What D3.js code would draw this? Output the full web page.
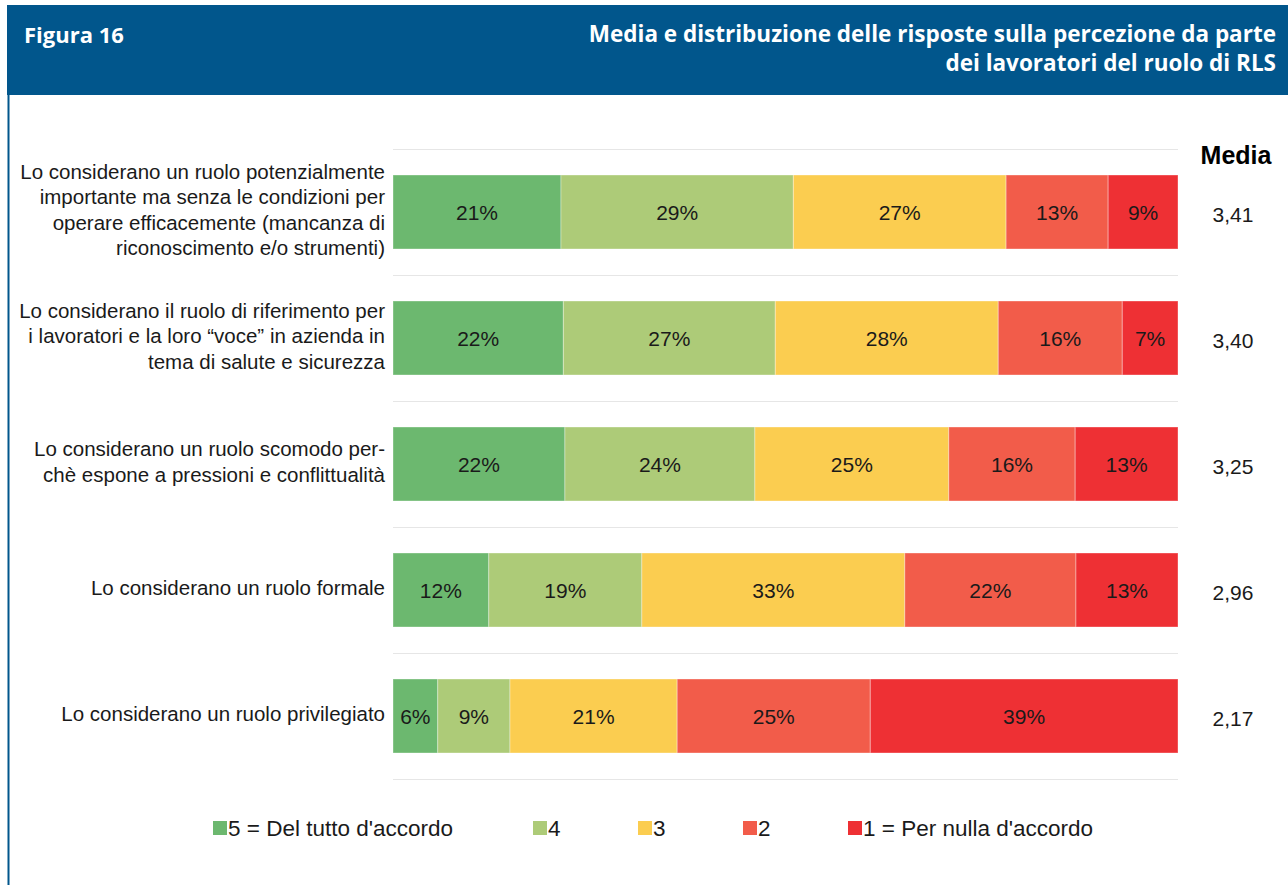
<!DOCTYPE html>
<html>
<head>
<meta charset="utf-8">
<script src="https://cdn.jsdelivr.net/npm/d3@7"></script>
<style>
  body { margin: 0; background: #fff; }
  svg { display: block; }
</style>
</head>
<body>
<svg id="chart" width="1288" height="885"></svg>
<script>
// Categories (label lines as wrapped in the figure)
const categories = [
  ["Lo considerano un ruolo potenzialmente", "importante ma senza le condizioni per", "operare efficacemente (mancanza di", "riconoscimento e/o strumenti)"],
  ["Lo considerano il ruolo di riferimento per", "i lavoratori e la loro \u201cvoce\u201d in azienda in", "tema di salute e sicurezza"],
  ["Lo considerano un ruolo scomodo per-", "ch\u00e8 espone a pressioni e conflittualit\u00e0"],
  ["Lo considerano un ruolo formale"],
  ["Lo considerano un ruolo privilegiato"]
];
const seriesNames = ["5 = Del tutto d'accordo", "4", "3", "2", "1 = Per nulla d'accordo"];
const colors = ["#6cb86f", "#adcb78", "#fbcd50", "#f25c4a", "#ee3034"];

// share of answers per score (5 -> 1), per row (bar widths)
const values = [
  [21.4, 29.6, 27.1, 13.0, 8.9],
  [21.7, 27.0, 28.4, 15.8, 7.1],
  [21.9, 24.2, 24.7, 16.1, 13.1],
  [12.2, 19.5, 33.5, 21.8, 13.0],
  [5.7, 9.2, 21.3, 24.6, 39.2]
];
// percentages as printed on the bars
const pctLabels = [
  [21, 29, 27, 13, 9],
  [22, 27, 28, 16, 7],
  [22, 24, 25, 16, 13],
  [12, 19, 33, 22, 13],
  [6, 9, 21, 25, 39]
];
const means = ["3,41", "3,40", "3,25", "2,96", "2,17"];

const svg = d3.select("#chart");
const font = "'Liberation Sans', Arial, sans-serif";

// header band
svg.append("rect").attr("x", 7).attr("y", 5).attr("width", 1281).attr("height", 90).attr("fill", "#01568c");
svg.append("line").attr("x1", 8.5).attr("x2", 8.5).attr("y1", 95).attr("y2", 885)
  .attr("stroke", "#01568c").attr("stroke-width", 2);
svg.append("text").attr("x", 24).attr("y", 43).attr("fill", "#fff")
  .style("font", "bold 22px 'Open Sans', sans-serif").text("Figura 16");
const titleLines = ["Media e distribuzione delle risposte sulla percezione da parte", "dei lavoratori del ruolo di RLS"];
svg.selectAll(".title").data(titleLines).enter().append("text")
  .attr("x", 1276).attr("y", (d, i) => 42 + i * 29)
  .attr("text-anchor", "end").attr("fill", "#fff")
  .style("font", "bold 22.5px 'Open Sans', sans-serif")
  .text(d => d);

const x0 = 393, x1 = 1178;
const y = d3.scaleBand().domain(d3.range(categories.length)).range([149, 779]);
const barH = 74;

// gridlines between rows
const grid = d3.range(categories.length + 1).map(i => 149 + i * y.step());
svg.selectAll(".grid").data(grid).enter().append("line")
  .attr("x1", x0).attr("x2", x1).attr("y1", d => d + 0.5).attr("y2", d => d + 0.5)
  .attr("stroke", "#e6e6e6").attr("stroke-width", 1);

values.forEach((row, i) => {
  const total = d3.sum(row);
  const x = d3.scaleLinear().domain([0, total]).range([x0, x1]);
  const cum = d3.cumsum(row);
  const yc = y(i) + y.bandwidth() / 2;
  const g = svg.append("g");
  g.selectAll("rect").data(row).enter().append("rect")
    .attr("x", (d, j) => x(cum[j] - d))
    .attr("width", d => x(d) - x(0))
    .attr("y", yc - barH / 2)
    .attr("height", barH)
    .attr("fill", (d, j) => colors[j])
    .attr("stroke", "#fff").attr("stroke-opacity", 0.35).attr("stroke-width", 1);
  g.selectAll("text").data(row).enter().append("text")
    .attr("x", (d, j) => x(cum[j] - d / 2))
    .attr("y", yc + 1)
    .attr("dy", "0.35em")
    .attr("text-anchor", "middle")
    .style("font", "21px " + font).attr("fill", "#1a1a1a")
    .text((d, j) => pctLabels[i][j] + "%");

  // category label
  const lines = categories[i];
  const lh = 25.5;
  const t = svg.append("text").attr("text-anchor", "end")
    .style("font", "20.5px " + font).attr("fill", "#1a1a1a");
  lines.forEach((l, k) => {
    t.append("tspan").attr("x", 385)
      .attr("y", yc - 2 + (k - (lines.length - 1) / 2) * lh)
      .attr("dy", "0.35em").text(l);
  });

  // mean
  svg.append("text").attr("x", 1233).attr("y", yc + 3).attr("dy", "0.35em")
    .attr("text-anchor", "middle").style("font", "21px " + font).attr("fill", "#1a1a1a")
    .text(means[i]);
});

svg.append("text").attr("x", 1236).attr("y", 164).attr("text-anchor", "middle")
  .style("font", "bold 25px " + font).attr("fill", "#000").text("Media");

// legend
const legendX = [213, 533, 638, 743, 848];
const lg = svg.selectAll(".lg").data(seriesNames).enter().append("g")
  .attr("transform", (d, i) => `translate(${legendX[i]},821)`);
lg.append("rect").attr("width", 14).attr("height", 14).attr("fill", (d, i) => colors[i]);
lg.append("text").attr("x", 15).attr("y", 7).attr("dy", "0.35em")
  .style("font", "22.5px " + font).attr("fill", "#1a1a1a").text(d => d);
</script>
</body>
</html>
